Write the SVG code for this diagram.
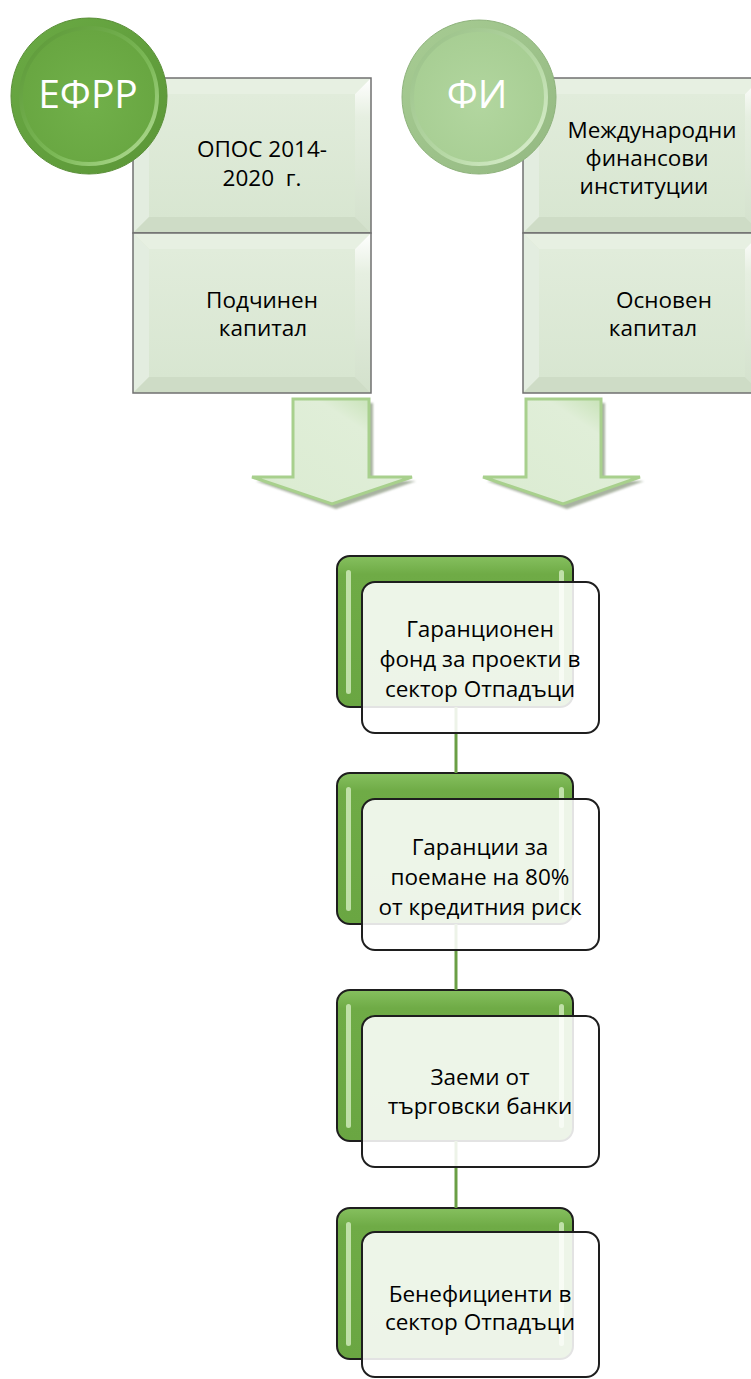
<svg xmlns="http://www.w3.org/2000/svg" width="751" height="1379" viewBox="0 0 751 1379">
  <style>
    .lbl { font-family: "Open Sans", Lato, "DejaVu Sans", sans-serif; font-size: 22.5px; fill: #000; text-anchor: middle; }
    .disc { font-family: "Open Sans", Lato, "DejaVu Sans", sans-serif; font-size: 39px; fill: #fff; text-anchor: middle; }
    .frame { fill: none; stroke: #707070; stroke-width: 1.5; }
    .bev-top { fill: #e7f0e2; }
    .bev-left { fill: #e3ede0; }
    .bev-right { fill: url(#bevRight); }
    .bev-bottom { fill: #cedcc6; }
    .face { fill: url(#faceGrad); }
    .back { fill: url(#backGrad); stroke: #1e1e1e; stroke-width: 2; }
    .front { fill: #ffffff; fill-opacity: 0.88; stroke: #1e1e1e; stroke-width: 2; }
    .gloss { fill: #c9e6b3; opacity: 0.9; }
    .link { stroke: #6a9f45; stroke-width: 3; fill: none; }
    .arrow { fill: url(#arrowGrad); stroke: #a8d08d; stroke-width: 3; stroke-linejoin: miter; }
    .arrow-shadow { fill: #8c9a82; opacity: 0.75; }
  </style>
  <defs>
    <linearGradient id="bevRight" x1="0" y1="0" x2="0" y2="1">
      <stop offset="0" stop-color="#ffffff"/>
      <stop offset="0.25" stop-color="#e6efe1"/>
      <stop offset="1" stop-color="#d3e1cc"/>
    </linearGradient>
    <linearGradient id="faceGrad" x1="0" y1="0" x2="0" y2="1">
      <stop offset="0" stop-color="#e1ecdb"/>
      <stop offset="1" stop-color="#d8e6d1"/>
    </linearGradient>
    <linearGradient id="backGrad" x1="0" y1="0" x2="0" y2="1">
      <stop offset="0" stop-color="#86c05f"/>
      <stop offset="0.12" stop-color="#6fab46"/>
      <stop offset="1" stop-color="#6aa642"/>
    </linearGradient>
    <linearGradient id="arrowGrad" x1="1" y1="0" x2="0" y2="1">
      <stop offset="0" stop-color="#b7dba1"/>
      <stop offset="0.3" stop-color="#e0eed8"/>
      <stop offset="0.8" stop-color="#dcecd3"/>
      <stop offset="1" stop-color="#c4e1b1"/>
    </linearGradient>
    <linearGradient id="darkDiscOuter" x1="0" y1="0" x2="1" y2="1">
      <stop offset="0" stop-color="#6aaa44"/>
      <stop offset="1" stop-color="#5b9637"/>
    </linearGradient>
    <linearGradient id="darkDiscRing" x1="0" y1="0" x2="1" y2="1">
      <stop offset="0" stop-color="#5a9636"/>
      <stop offset="0.6" stop-color="#7cb957"/>
      <stop offset="1" stop-color="#b8e09c"/>
    </linearGradient>
    <radialGradient id="darkDiscFace" cx="0.5" cy="0.55" r="0.6">
      <stop offset="0" stop-color="#71b04a"/>
      <stop offset="1" stop-color="#67a540"/>
    </radialGradient>
    <linearGradient id="lightDiscOuter" x1="0" y1="0" x2="1" y2="1">
      <stop offset="0" stop-color="#a7cc93"/>
      <stop offset="1" stop-color="#94b982"/>
    </linearGradient>
    <linearGradient id="lightDiscRing" x1="0" y1="0" x2="1" y2="1">
      <stop offset="0" stop-color="#98bf86"/>
      <stop offset="0.6" stop-color="#b7d9a6"/>
      <stop offset="1" stop-color="#e0f2d5"/>
    </linearGradient>
    <radialGradient id="lightDiscFace" cx="0.5" cy="0.55" r="0.6">
      <stop offset="0" stop-color="#b2d69f"/>
      <stop offset="1" stop-color="#a6cd92"/>
    </radialGradient>
    <filter id="soft" x="-10%" y="-10%" width="120%" height="120%">
      <feGaussianBlur stdDeviation="1.2"/>
    </filter>
  </defs>

  <!-- source column: ЕФРР -->
  <g id="efrr-opos">
    <g transform="translate(133,78)">
      <rect x="0" y="0" width="238" height="155" fill="#dce8d5"/>
      <polygon class="bev-top" points="0,0 238,0 222,16 16,16"/>
      <polygon class="bev-left" points="0,0 16,16 16,139 0,155"/>
      <polygon class="bev-right" points="238,0 238,155 222,139 222,16"/>
      <polygon class="bev-bottom" points="0,155 238,155 222,139 16,139"/>
      <rect class="face" x="16" y="16" width="206" height="123"/>
      <rect class="frame" x="0" y="0" width="238" height="155"/>
    </g>
    <text class="lbl" x="262" y="157">ОПОС 2014-</text>
    <text class="lbl" x="262" y="186" xml:space="preserve">2020  г.</text>
  </g>
  <g id="efrr-sub">
    <g transform="translate(133,233)">
      <rect x="0" y="0" width="238" height="160" fill="#dce8d5"/>
      <polygon class="bev-top" points="0,0 238,0 222,16 16,16"/>
      <polygon class="bev-left" points="0,0 16,16 16,144 0,160"/>
      <polygon class="bev-right" points="238,0 238,160 222,144 222,16"/>
      <polygon class="bev-bottom" points="0,160 238,160 222,144 16,144"/>
      <rect class="face" x="16" y="16" width="206" height="128"/>
      <rect class="frame" x="0" y="0" width="238" height="160"/>
    </g>
    <text class="lbl" x="262" y="308">Подчинен</text>
    <text class="lbl" x="263" y="336">капитал</text>
  </g>
  <g id="efrr">
    <circle cx="89" cy="96" r="78" fill="url(#darkDiscOuter)" stroke="#5a8f38" stroke-width="1"/>
    <circle cx="89" cy="96" r="68" fill="url(#darkDiscFace)" stroke="url(#darkDiscRing)" stroke-width="4"/>
    <text class="disc" x="88" y="108">ЕФРР</text>
  </g>

  <!-- source column: ФИ -->
  <g id="fi-mfi">
    <g transform="translate(523,78)">
      <rect x="0" y="0" width="238" height="155" fill="#dce8d5"/>
      <polygon class="bev-top" points="0,0 238,0 222,16 16,16"/>
      <polygon class="bev-left" points="0,0 16,16 16,139 0,155"/>
      <polygon class="bev-right" points="238,0 238,155 222,139 222,16"/>
      <polygon class="bev-bottom" points="0,155 238,155 222,139 16,139"/>
      <rect class="face" x="16" y="16" width="206" height="123"/>
      <rect class="frame" x="0" y="0" width="238" height="155"/>
    </g>
    <text class="lbl" x="652" y="138">Международни</text>
    <text class="lbl" x="647" y="166">финансови</text>
    <text class="lbl" x="644" y="194">институции</text>
  </g>
  <g id="fi-base">
    <g transform="translate(523,233)">
      <rect x="0" y="0" width="238" height="160" fill="#dce8d5"/>
      <polygon class="bev-top" points="0,0 238,0 222,16 16,16"/>
      <polygon class="bev-left" points="0,0 16,16 16,144 0,160"/>
      <polygon class="bev-right" points="238,0 238,160 222,144 222,16"/>
      <polygon class="bev-bottom" points="0,160 238,160 222,144 16,144"/>
      <rect class="face" x="16" y="16" width="206" height="128"/>
      <rect class="frame" x="0" y="0" width="238" height="160"/>
    </g>
    <text class="lbl" x="664" y="308">Основен</text>
    <text class="lbl" x="653" y="336">капитал</text>
  </g>
  <g id="fi">
    <circle cx="479" cy="97" r="77" fill="url(#lightDiscOuter)" stroke="#8fb37d" stroke-width="1"/>
    <circle cx="479" cy="97" r="67" fill="url(#lightDiscFace)" stroke="url(#lightDiscRing)" stroke-width="4"/>
    <text class="disc" x="477" y="108">ФИ</text>
  </g>

  <!-- down arrows -->
  <g id="arrow-left">
    <polygon class="arrow-shadow" filter="url(#soft)" points="297,403 373,403 373,481 416,481 336,509 256,481 297,481"/>
    <polygon class="arrow" points="293,399 369,399 369,477 412,477 332,504 252,477 293,477"/>
  </g>
  <g id="arrow-right">
    <polygon class="arrow-shadow" filter="url(#soft)" points="530,403 605,403 605,481 644,481 567,509 487,481 530,481"/>
    <polygon class="arrow" points="526,399 601,399 601,477 640,477 563,504 483,477 526,477"/>
  </g>

  <!-- back tabs of the chain -->
  <g id="tabs">
    <g transform="translate(337,556)">
      <rect class="back" x="0" y="0" width="236" height="151" rx="13"/>
      <rect class="gloss" x="9" y="14" width="5" height="124" rx="2.5"/>
      <rect class="gloss" x="222" y="14" width="5" height="124" rx="2.5"/>
    </g>
    <g transform="translate(337,773)">
      <rect class="back" x="0" y="0" width="236" height="151" rx="13"/>
      <rect class="gloss" x="9" y="14" width="5" height="124" rx="2.5"/>
      <rect class="gloss" x="222" y="14" width="5" height="124" rx="2.5"/>
    </g>
    <g transform="translate(337,990)">
      <rect class="back" x="0" y="0" width="236" height="151" rx="13"/>
      <rect class="gloss" x="9" y="14" width="5" height="124" rx="2.5"/>
      <rect class="gloss" x="222" y="14" width="5" height="124" rx="2.5"/>
    </g>
    <g transform="translate(337,1208)">
      <rect class="back" x="0" y="0" width="236" height="151" rx="13"/>
      <rect class="gloss" x="9" y="14" width="5" height="124" rx="2.5"/>
      <rect class="gloss" x="222" y="14" width="5" height="124" rx="2.5"/>
    </g>
  </g>

  <!-- connectors between chain steps -->
  <g id="connectors">
    <line class="link" x1="456" y1="707" x2="456" y2="773"/>
    <line class="link" x1="456" y1="924" x2="456" y2="990"/>
    <line class="link" x1="456" y1="1141" x2="456" y2="1208"/>
  </g>

  <!-- chain steps -->
  <g id="step-fund">
    <rect class="front" x="362" y="582" width="237" height="151" rx="13"/>
    <text class="lbl" x="480" y="637">Гаранционен</text>
    <text class="lbl" x="480" y="667">фонд за проекти в</text>
    <text class="lbl" x="480" y="697">сектор Отпадъци</text>
  </g>
  <g id="step-guarantee">
    <rect class="front" x="362" y="799" width="237" height="151" rx="13"/>
    <text class="lbl" x="480" y="855">Гаранции за</text>
    <text class="lbl" x="480" y="885">поемане на 80%</text>
    <text class="lbl" x="480" y="915">от кредитния риск</text>
  </g>
  <g id="step-loans">
    <rect class="front" x="362" y="1016" width="237" height="151" rx="13"/>
    <text class="lbl" x="480" y="1085">Заеми от</text>
    <text class="lbl" x="480" y="1114">търговски банки</text>
  </g>
  <g id="step-beneficiaries">
    <rect class="front" x="362" y="1232" width="237" height="145" rx="13"/>
    <text class="lbl" x="480" y="1302">Бенефициенти в</text>
    <text class="lbl" x="480" y="1330">сектор Отпадъци</text>
  </g>
</svg>
